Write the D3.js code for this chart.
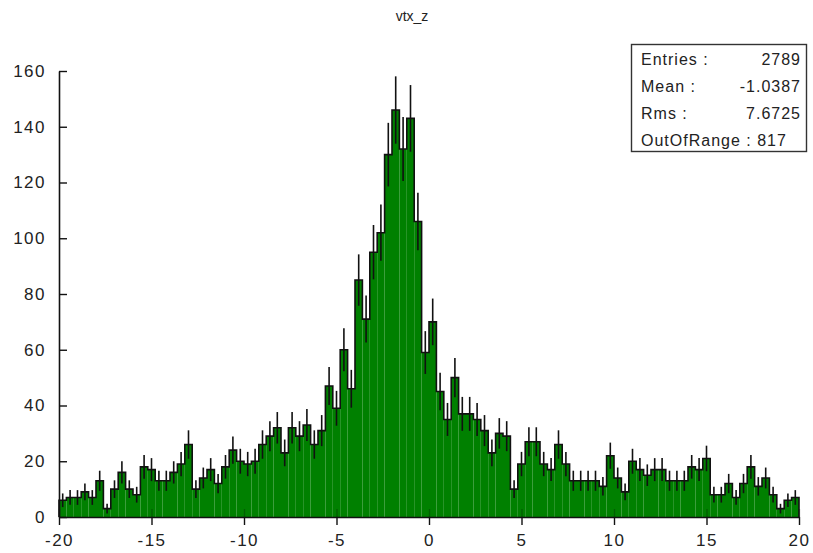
<!DOCTYPE html>
<html>
<head>
<meta charset="utf-8">
<script src="https://cdn.jsdelivr.net/npm/d3@7"></script>
<style>
  html, body { margin: 0; padding: 0; background: #fff; }
  svg { display: block; }
  text { font-family: "Liberation Sans", Arial, sans-serif; fill: #222; }
</style>
</head>
<body>
<svg id="chart" width="813" height="553"></svg>
<script>
// Histogram of vtx_z: 100 bins of width 0.4 over [-20, 20]
const binRange = [-20, 20];
const counts = [
  6, 7, 7, 9, 7, 13, 3, 10, 16, 10,
  8, 18, 17, 13, 13, 16, 19, 26, 10, 14,
  17, 12, 18, 24, 20, 19, 20, 26, 29, 32,
  23, 32, 29, 33, 26, 31, 47, 39, 60, 46,
  85, 71, 95, 102, 130, 146, 132, 143, 106, 59,
  70, 45, 35, 50, 37, 37, 35, 31, 23, 30,
  29, 10, 19, 27, 27, 19, 17, 26, 19, 13,
  13, 13, 13, 11, 22, 14, 9, 20, 17, 15,
  17, 17, 13, 13, 13, 18, 17, 21, 8, 8,
  12, 7, 12, 18, 11, 14, 8, 3, 6, 7
];
const xTicks = [-20, -15, -10, -5, 0, 5, 10, 15, 20];
const yTicks = [0, 20, 40, 60, 80, 100, 120, 140, 160];
const statLabels = ["Entries :", "Mean :", "Rms :", "OutOfRange : 817"];
const statValues = ["2789", "-1.0387", "7.6725", ""];
const title = "vtx_z";

const svg = d3.select("#chart");
const margin = { left: 59, right: 14, top: 71, bottom: 36 };
const W = 813, H = 553;

const x = d3.scaleLinear().domain(binRange).range([margin.left, W - margin.right]);
const y = d3.scaleLinear().domain([0, 160]).range([H - margin.bottom, margin.top]);

const binW = (binRange[1] - binRange[0]) / counts.length;
const bins = counts.map((c, i) => ({
  x0: binRange[0] + i * binW,
  x1: binRange[0] + (i + 1) * binW,
  c: c
}));

// title
svg.append("text")
  .attr("x", 412).attr("y", 21)
  .attr("text-anchor", "middle")
  .style("font-size", "14px")
  .text(title);

// bars
svg.append("g").selectAll("rect")
  .data(bins)
  .join("rect")
  .attr("x", d => x(d.x0))
  .attr("width", d => x(d.x1) - x(d.x0))
  .attr("y", d => y(d.c))
  .attr("height", d => y(0) - y(d.c))
  .attr("fill", "#008000");

// step outline
const outline = d3.path();
outline.moveTo(x(binRange[0]), y(0));
bins.forEach(d => {
  outline.lineTo(x(d.x0), y(d.c));
  outline.lineTo(x(d.x1), y(d.c));
});
outline.lineTo(x(binRange[1]), y(0));
svg.append("path")
  .attr("d", outline.toString())
  .attr("fill", "none")
  .attr("stroke", "#111")
  .attr("stroke-width", 1.6)
  .attr("stroke-linejoin", "miter");

// error bars: sqrt(N)
svg.append("g").selectAll("line")
  .data(bins)
  .join("line")
  .attr("x1", d => x((d.x0 + d.x1) / 2))
  .attr("x2", d => x((d.x0 + d.x1) / 2))
  .attr("y1", d => y(Math.max(0, d.c - Math.sqrt(d.c))))
  .attr("y2", d => y(d.c + Math.sqrt(d.c)))
  .attr("stroke", "#111")
  .attr("stroke-width", 1.6);

// plain hyphen for negative tick labels
const fmt = d => String(d);

// x axis
const gx = svg.append("g")
  .attr("transform", `translate(0,${y(0)})`)
  .call(d3.axisBottom(x).tickValues(xTicks).tickFormat(fmt)
    .tickSize(8).tickPadding(9).tickSizeOuter(0));
gx.select(".domain").attr("stroke", "#111").attr("stroke-width", 1.6);
gx.selectAll(".tick line").attr("stroke", "#111").attr("stroke-width", 1.4);
gx.selectAll(".tick text")
  .style("font-size", "17px")
  .style("letter-spacing", "1.5px")
  .attr("fill", "#222");

// y axis
const gy = svg.append("g")
  .attr("transform", `translate(${x(binRange[0])},0)`)
  .call(d3.axisLeft(y).tickValues(yTicks).tickFormat(fmt)
    .tickSize(10).tickPadding(3).tickSizeOuter(0));
gy.select(".domain").attr("stroke", "#111").attr("stroke-width", 1.6);
gy.selectAll(".tick line").attr("x2", 8).attr("stroke", "#111").attr("stroke-width", 1.4);
gy.selectAll(".tick text")
  .style("font-size", "17px")
  .style("letter-spacing", "1.5px")
  .attr("fill", "#222");

// x ticks continue inside the filled area as darker green
gx.selectAll(".tick").append("line")
  .attr("y1", -8).attr("y2", 0)
  .attr("stroke", "rgba(0,0,0,0.25)")
  .attr("stroke-width", 1.4);

// statistics box
const box = svg.append("g").attr("transform", "translate(631,44)");
box.append("rect")
  .attr("x", 0.5).attr("y", 0.5)
  .attr("width", 175).attr("height", 107)
  .attr("fill", "#fff")
  .attr("stroke", "#333")
  .attr("stroke-width", 1.4);
statLabels.forEach((s, i) => {
  box.append("text")
    .attr("x", 10).attr("y", 21 + i * 27)
    .style("font-size", "16px")
    .style("letter-spacing", "1px")
    .text(s);
  if (statValues[i]) {
    box.append("text")
      .attr("x", 170).attr("y", 21 + i * 27)
      .attr("text-anchor", "end")
      .style("font-size", "16px")
      .style("letter-spacing", "1px")
      .text(statValues[i]);
  }
});
</script>
</body>
</html>
